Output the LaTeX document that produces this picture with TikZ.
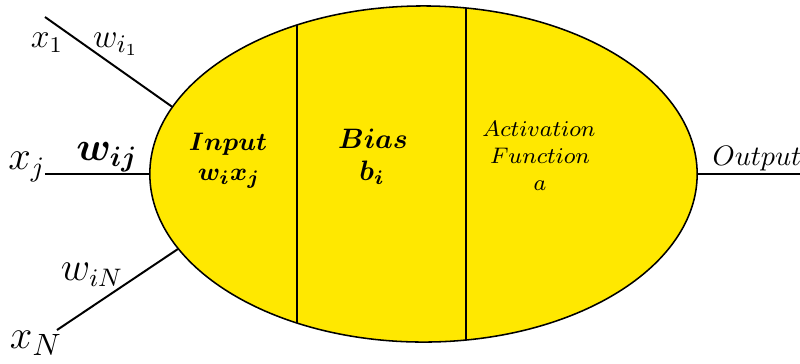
\documentclass[tikz,border=0pt]{standalone}
\usepackage{amsmath,bm}
\usepackage{tikz}
\usetikzlibrary{shapes.geometric,calc}
\definecolor{nyellow}{HTML}{FFE800}
\tikzset{
  cell/.style    = {draw, line width=0.55pt, fill=nyellow, ellipse,
                    minimum width=6.84cm, minimum height=4.2cm, inner sep=0pt},
  divider/.style = {line width=0.7pt},
  wire/.style    = {line width=0.7pt},
  lbl/.style     = {inner sep=0pt},
}
\newcommand{\fsz}[1]{\fontsize{#1}{#1}\selectfont}

\begin{document}
\begin{tikzpicture}[x=0.0125cm,y=-0.0125cm]
\useasboundingbox (0,0) rectangle (800,363);
% neuron body
\node[cell] (neuron) at (423.5,174) {};
\begin{scope}
  \clip (423.5,174) ellipse [x radius=273.5, y radius=168];
  \draw[divider] (297,0) -- (297,363);
  \draw[divider] (466,0) -- (466,363);
\end{scope}
% inputs
\coordinate (xone)  at (45,17);
\coordinate (xj)    at (45,174);
\coordinate (xn)    at (57,330);
\coordinate (outend) at (800,174);
\draw[wire] (xone) -- (neuron.165.4);
\draw[wire] (xj) -- (neuron.west);
\draw[wire] (xn) -- (neuron.197.3);
\draw[wire] (neuron.east) -- (outend);
\node[lbl,font=\fsz{12}]   (lxone) at (47,43)  {$x_1$};
\node[lbl,font=\fsz{12.5}] (lwone) at (116,44) {$w_{i_1}$};
\node[lbl,font=\fsz{14}]   (lxj)   at (27,167) {$x_j$};
\node[lbl,font=\fsz{14}]   (lwj)   at (107,157) {$\bm{w_{ij}}$};
\node[lbl,font=\fsz{13.5}] (lwn)   at (92,275) {$w_{iN}$};
\node[lbl,font=\fsz{15}]   (lxn)   at (36,343) {$x_N$};
% sections
\node[lbl,font=\fsz{9.5},anchor=base] (inp)    at (228,150) {$\bm{Input}$};
\node[lbl,font=\fsz{9.5},anchor=base] (inpval) at (229,180) {$\bm{w_ix_j}$};
\node[lbl,font=\fsz{10},anchor=base]  (bias)    at (373,148) {$\bm{Bias}$};
\node[lbl,font=\fsz{10},anchor=base]  (biasval) at (372,180) {$\bm{b_i}$};
\node[lbl,font=\fsz{8.5},anchor=base] (act)    at (539,136) {$Activation$};
\node[lbl,font=\fsz{8.5},anchor=base] (actfn)  at (540,163) {$Function$};
\node[lbl,font=\fsz{8.5},anchor=base] (actval) at (540,190) {$a$};
% output
\node[lbl,font=\fsz{10},anchor=base west] (outp) at (712,165) {$Output$};
\end{tikzpicture}
\end{document}
